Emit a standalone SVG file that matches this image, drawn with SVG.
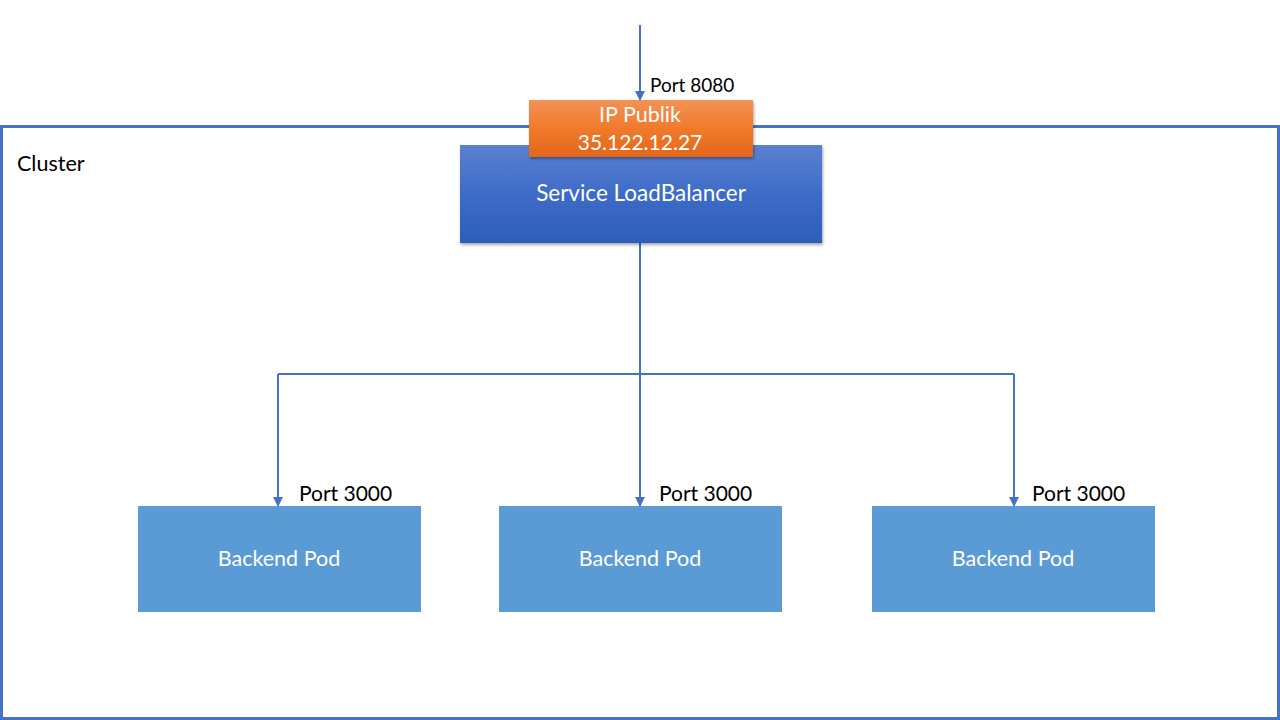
<svg xmlns="http://www.w3.org/2000/svg" width="1280" height="720" viewBox="0 0 1280 720">
<style>
.lbl{font-family:Lato,"Open Sans","Liberation Sans",sans-serif;fill:#000;}
.wt{font-family:Lato,"Open Sans","Liberation Sans",sans-serif;fill:#fff;text-anchor:middle;}
.conn{stroke:#4472c4;stroke-width:2;fill:none;}
.pod{fill:#5b9bd5;}
</style>
<defs>
<linearGradient id="gBlue" x1="0" y1="0" x2="0" y2="1">
<stop offset="0" stop-color="#5b80d0"/>
<stop offset="0.5" stop-color="#3d6cc8"/>
<stop offset="1" stop-color="#2d5db8"/>
</linearGradient>
<linearGradient id="gOrange" x1="0" y1="0" x2="0" y2="1">
<stop offset="0" stop-color="#f39256"/>
<stop offset="0.5" stop-color="#f07a2c"/>
<stop offset="1" stop-color="#e4661a"/>
</linearGradient>
<marker id="arr" viewBox="0 0 10 10" refX="9" refY="5" markerWidth="5" markerHeight="5" orient="auto" markerUnits="strokeWidth">
<path d="M0,0 L10,5 L0,10 z" fill="#4472c4"/>
</marker>
<filter id="sh" x="-10%" y="-10%" width="120%" height="130%">
<feDropShadow dx="1" dy="2" stdDeviation="1.5" flood-color="#000" flood-opacity="0.35"/>
</filter>
</defs>
<g id="cluster">
<rect x="1.5" y="126.5" width="1277" height="592" fill="none" stroke="#4472c4" stroke-width="3"/>
<text class="lbl" x="17" y="171" font-size="21.5">Cluster</text>
</g>
<g id="connectors">
<line class="conn" x1="640" y1="25" x2="640" y2="100" marker-end="url(#arr)"/>
<path class="conn" d="M640,243 V374"/>
<path class="conn" d="M278,374 H1014"/>
<line class="conn" x1="278" y1="374" x2="278" y2="506" marker-end="url(#arr)"/>
<line class="conn" x1="640" y1="374" x2="640" y2="506" marker-end="url(#arr)"/>
<line class="conn" x1="1014" y1="374" x2="1014" y2="506" marker-end="url(#arr)"/>
</g>
<g id="service">
<rect x="460" y="145" width="362" height="98" fill="url(#gBlue)" filter="url(#sh)"/>
<text class="wt" x="641" y="201" font-size="22.5">Service LoadBalancer</text>
</g>
<g id="ip">
<rect x="529" y="100" width="224" height="57" fill="url(#gOrange)" filter="url(#sh)"/>
<text class="wt" x="640" y="122" font-size="21.5">IP Publik</text>
<text class="wt" x="640" y="150" font-size="21">35.122.12.27</text>
<text class="lbl" x="650" y="92" font-size="19">Port 8080</text>
</g>
<g id="pod1">
<rect class="pod" x="138" y="506" width="283" height="106"/>
<text class="wt" x="279" y="566" font-size="21.5">Backend Pod</text>
<text class="lbl" x="299" y="501" font-size="21">Port 3000</text>
</g>
<g id="pod2">
<rect class="pod" x="499" y="506" width="283" height="106"/>
<text class="wt" x="640" y="566" font-size="21.5">Backend Pod</text>
<text class="lbl" x="659" y="501" font-size="21">Port 3000</text>
</g>
<g id="pod3">
<rect class="pod" x="872" y="506" width="283" height="106"/>
<text class="wt" x="1013" y="566" font-size="21.5">Backend Pod</text>
<text class="lbl" x="1032" y="501" font-size="21">Port 3000</text>
</g>
</svg>
